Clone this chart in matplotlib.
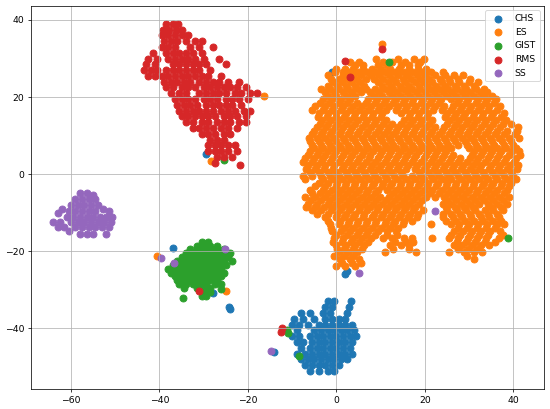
import matplotlib
matplotlib.use("Agg")
import matplotlib.pyplot as plt
import numpy as np

classes = ["CHS", "ES", "GIST", "RMS", "SS"]
colors = ["#1f77b4", "#ff7f0e", "#2ca02c", "#d62728", "#9467bd"]

# ---- CHS (rows: y, list of x) ----
chs_rows = [
    (-33.0, [-2.0, -0.5, 3.3]),
    (-34.5, [-2.5, -1.0, 2.8]),
    (-36.0, [-8.0, -6.0, -3.0, -1.5, 2.3]),
    (-37.5, [-9.5, -7.5, -5.0, -2.5, -1.0, 0.5, 2.0]),
    (-39.0, [-10.0, -8.5, -6.5, -4.0, -2.5, -1.0, 0.5, 2.0, 3.5]),
    (-40.5, [-9.0, -5.0, -3.5, -2.0, -0.5, 1.0, 2.5, 4.0]),
    (-42.0, [-10.0, -8.5, -6.0, -4.5, -3.0, -1.5, 0.0, 1.5, 3.0, 4.5]),
    (-43.5, [-9.0, -7.5, -5.5, -4.0, -2.5, -1.0, 0.5, 2.0, 3.5]),
    (-45.0, [-8.0, -6.0, -4.5, -3.0, -1.5, 0.0, 1.5, 3.0]),
    (-46.5, [-9.0, -7.0, -5.5, -4.0, -2.5, -1.0, 0.5, 2.0, 3.5]),
    (-48.0, [-8.0, -6.5, -5.0, -3.5, -2.0, -0.5, 1.0, 2.5]),
    (-49.5, [-7.0, -5.5, -4.0, -2.5, -1.0, 0.5]),
    (-51.0, [-6.0, -4.0, -2.0, -0.5]),
]
chs_extra = [(-29.5, 5.2), (-36.9, -19.2), (-27.9, -30.8), (-24.2, -34.5),
             (-24.0, -34.9), (-14.1, -46.1), (-1.0, 26.5), (1.9, -25.9), (2.5, -25.2)]

# ---- ES ----
es_rows = [
    (30.0, [9.0, 14.0, 17.5, 19.7]),
    (29.2, [3.0, 5.2, 10.5, 12.6, 15.6, 19.0]),
    (28.3, [4.2, 6.0, 9.5, 11.5, 14.5, 16.5, 18.5]),
    (27.4, [0.0, 2.0, 3.8, 6.0, 8.0, 10.0, 12.2, 14.2, 16.3, 18.4, 20.3]),
    (26.6, [-0.3, 1.5, 2.8, 4.8, 7.0, 9.0, 11.0, 13.2, 15.2, 17.2, 19.3, 21.4, 24.0]),
    (25.7, [-2.0, 1.6, 3.7, 5.6, 7.8, 9.7, 11.8, 14.0, 16.0, 18.2, 20.0, 22.4, 24.6, 26.5, 28.7]),
    (24.8, [-1.2, 0.5, 2.5, 4.5, 6.6, 8.6, 10.6, 12.8, 15.0, 16.8, 19.0, 21.0, 23.5, 25.5, 27.6, 30.2]),
    (23.9, [-0.8, 1.2, 3.3, 5.4, 9.5, 11.6, 13.5, 15.6, 17.8, 19.8, 21.7, 23.8, 25.7, 27.7, 30.0, 32.0]),
    (23.0, [-1.8, 0.2, 2.2, 4.2, 6.3, 10.3, 12.4, 14.4, 16.5, 18.6, 20.5, 22.6, 24.6, 26.8, 28.8, 31.0]),
    (22.1, [-3.5, -1.4, 0.6, 2.6, 4.8, 6.8, 8.8, 10.9, 12.9, 15.0, 17.1, 19.0, 21.1, 23.2, 25.3, 27.3, 29.3, 31.5, 33.4]),
    (21.2, [-2.5, -0.5, 1.5, 3.5, 5.5, 7.6, 9.7, 11.8, 13.8, 16.0, 18.0, 20.0, 22.0, 24.2, 26.2, 28.3, 30.3, 32.5, 34.0]),
    (20.3, [-2.0, 0.0, 2.3, 4.3, 8.5, 10.4, 12.5, 14.6, 16.7, 18.7, 20.8, 22.8, 24.9, 27.0, 29.0, 31.0, 33.2, 35.2]),
    (19.4, [-3.0, -1.0, 1.0, 3.0, 7.2, 9.2, 11.2, 13.4, 15.5, 17.4, 19.5, 21.6, 23.6, 25.8, 27.8, 29.8, 32.0, 34.0, 36.0]),
    (18.5, [-3.8, -1.6, 0.5, 2.5, 4.6, 6.7, 8.8, 10.8, 12.8, 15.0, 17.0, 19.1, 21.1, 23.2, 27.3, 29.4, 31.5, 33.5, 35.6]),
    (17.6, [-4.8, -2.5, -0.5, 1.6, 3.7, 5.7, 7.8, 9.8, 11.9, 14.0, 16.0, 18.1, 20.2, 22.2, 24.3, 26.4, 28.5, 30.5, 32.6, 34.6, 37.0]),
    (16.7, [-5.5, -3.0, -1.0, 1.0, 3.1, 5.1, 7.2, 9.3, 11.3, 13.4, 15.5, 17.5, 19.6, 21.8, 23.8, 25.9, 28.0, 30.0, 32.0, 34.2, 36.3]),
    (15.8, [-4.0, -2.0, 0.0, 2.1, 4.2, 6.2, 8.3, 10.4, 14.5, 16.6, 18.7, 20.8, 25.0, 27.0, 29.0, 31.1, 33.2, 35.3, 38.0]),
    (14.9, [-4.2, -2.2, -0.2, 1.8, 3.9, 6.0, 8.0, 10.1, 16.3, 18.4, 20.4, 24.6, 26.6, 28.7, 30.8, 32.9, 35.0, 37.2]),
    (14.0, [-3.2, -1.2, 0.8, 2.8, 4.9, 7.0, 9.0, 11.1, 15.2, 17.3, 19.4, 21.5, 25.6, 27.7, 29.8, 31.8, 33.9, 36.0, 38.4]),
    (13.1, [-3.8, -1.8, 0.2, 2.2, 4.2, 6.4, 8.4, 10.5, 12.6, 14.6, 16.6, 18.8, 20.9, 25.0, 27.1, 29.2, 31.2, 33.3, 35.4, 37.6, 39.5]),
    (12.2, [-4.5, -2.4, -0.4, 1.6, 3.6, 5.7, 7.8, 9.8, 11.9, 14.0, 16.0, 18.1, 20.2, 22.3, 24.4, 26.5, 28.5, 30.6, 32.7, 34.8, 37.0, 41.0]),
    (11.3, [-5.0, -3.0, -1.0, 1.0, 3.1, 5.2, 7.2, 9.3, 11.4, 13.4, 15.5, 17.6, 19.6, 21.7, 23.8, 25.9, 27.9, 30.0, 32.1, 34.2, 36.3, 38.6, 40.8]),
    (10.4, [-5.5, -3.5, -1.5, 0.5, 2.6, 4.6, 6.7, 8.8, 10.8, 12.9, 15.0, 17.0, 19.1, 21.2, 23.3, 25.4, 27.4, 29.5, 31.6, 33.7, 35.8, 38.0, 40.3]),
    (9.5, [-6.2, -4.5, -2.5, -0.5, 1.6, 3.6, 5.7, 7.8, 9.8, 11.9, 13.9, 16.0, 18.1, 20.2, 22.2, 24.3, 26.4, 28.5, 30.5, 32.6, 34.7, 36.8, 39.0, 41.2]),
    (8.6, [-6.0, -4.0, -2.0, 0.0, 2.0, 4.1, 6.2, 8.2, 10.3, 12.4, 14.4, 16.5, 18.6, 20.7, 22.7, 24.8, 26.9, 29.0, 31.0, 33.1, 35.2, 37.4, 39.5]),
    (7.7, [-5.5, -3.5, -1.5, 0.5, 2.6, 4.7, 6.7, 8.8, 10.9, 12.9, 15.0, 17.0, 19.1, 21.2, 23.3, 25.3, 27.4, 29.5, 31.6, 33.6, 35.7, 37.9, 40.0]),
    (6.8, [-5.0, -3.0, -1.0, 1.0, 3.1, 5.2, 7.2, 9.3, 11.4, 13.4, 15.5, 17.6, 19.7, 21.7, 23.8, 25.9, 30.0, 32.1, 34.2, 36.3, 38.4, 40.6]),
    (5.9, [-6.0, -4.0, -2.0, 0.0, 2.1, 4.2, 6.2, 8.3, 10.4, 12.4, 14.5, 16.6, 18.6, 20.7, 22.8, 24.8, 31.1, 33.1, 35.2, 37.3, 39.6, 41.2]),
    (5.0, [-6.5, -4.5, -2.5, -0.5, 1.6, 3.6, 5.7, 7.7, 9.8, 11.9, 14.0, 16.0, 18.1, 20.2, 22.3, 24.3, 26.4, 30.6, 32.6, 34.7, 36.8, 39.0, 41.5]),
    (4.1, [-7.0, -5.0, -3.0, -1.0, 1.1, 3.1, 5.2, 7.3, 9.3, 11.4, 13.5, 15.5, 17.6, 19.7, 21.8, 23.8, 25.9, 28.0, 30.1, 32.1, 34.2, 36.3, 38.4, 40.6]),
    (3.2, [-7.5, -5.5, -3.5, -1.5, 0.6, 2.6, 4.7, 6.8, 8.8, 10.9, 13.0, 15.0, 17.1, 19.2, 21.3, 23.3, 25.4, 27.5, 29.6, 31.6, 33.7, 35.8, 37.9, 40.2]),
    (2.3, [-6.5, -4.5, -2.5, -0.5, 1.8, 3.8, 5.9, 8.0, 10.0, 12.1, 14.2, 16.2, 18.3, 20.4, 22.5, 24.5, 26.6, 28.7, 30.8, 32.8, 34.9, 37.0, 39.2, 41.0]),
    (1.4, [-6.8, -4.8, -2.8, -0.8, 1.3, 3.3, 5.4, 7.5, 9.5, 11.6, 13.7, 15.7, 17.8, 19.9, 22.0, 24.0, 26.1, 28.2, 30.3, 32.3, 34.4, 36.5, 38.6, 40.8]),
    (0.5, [-6.0, -4.0, -2.0, 0.0, 2.1, 4.1, 6.2, 8.3, 10.3, 12.4, 14.5, 18.6, 20.7, 22.8, 24.8, 26.9, 29.0, 31.1, 33.1, 35.2, 37.3, 39.4]),
    (-0.4, [-7.5, -5.5, -3.5, -1.5, 0.6, 2.6, 4.7, 6.8, 8.8, 10.9, 13.0, 15.0, 17.1, 19.2, 21.3, 23.3, 25.4, 27.5, 29.6, 31.6, 33.7, 35.8, 37.9, 40.0]),
    (-1.3, [-7.0, -3.0, -0.8, 1.2, 3.3, 5.3, 7.4, 9.5, 11.5, 13.6, 15.7, 17.7, 19.8, 21.9, 24.0, 26.0, 28.1, 30.2, 32.3, 34.3, 36.4, 38.5, 40.5]),
    (-2.2, [-4.0, -1.8, 0.2, 2.2, 4.3, 6.3, 8.4, 10.5, 12.5, 14.6, 16.7, 18.8, 20.8, 22.9, 25.0, 27.1, 29.1, 31.2, 33.3, 35.4, 37.4, 39.5]),
    (-3.1, [-4.8, -2.5, -0.2, 2.0, 4.0, 6.0, 8.1, 10.2, 12.2, 14.3, 16.4, 18.4, 20.5, 22.6, 24.7, 26.7, 28.8, 30.9, 33.0, 35.0, 37.1, 39.0]),
    (-4.0, [-6.0, -3.0, -1.0, 1.0, 3.1, 5.2, 7.2, 9.3, 11.4, 13.4, 15.5, 17.6, 19.7, 21.7, 23.8, 25.9, 28.0, 30.0, 32.1, 34.2, 36.3, 38.5]),
    (-4.9, [-5.5, -3.8, -1.8, 0.4, 2.5, 4.5, 6.6, 8.7, 12.8, 14.9, 16.9, 19.0, 21.1, 23.2, 25.2, 27.3, 29.4, 31.5, 33.5, 35.6, 37.8]),
    (-5.8, [-7.0, -4.8, -2.5, -0.5, 1.6, 3.6, 5.7, 7.8, 9.8, 11.9, 14.0, 16.0, 18.1, 20.2, 22.3, 24.4, 26.4, 28.5, 30.6, 32.7, 34.7, 36.8, 39.0]),
    (-6.7, [-5.8, -3.5, -1.4, 0.8, 2.8, 4.9, 7.0, 9.0, 11.1, 13.2, 15.2, 17.3, 19.4, 25.0, 27.1, 29.2, 31.3, 33.4, 35.5, 37.6]),
    (-7.6, [-6.5, -4.5, -2.0, 0.0, 2.1, 4.1, 6.2, 8.3, 10.3, 12.4, 14.5, 16.5, 18.6, 24.0, 26.0, 28.1, 30.2, 32.2, 34.3, 36.4, 38.5]),
    (-8.5, [-6.8, -4.8, -2.8, -0.8, 1.3, 3.3, 5.4, 7.5, 9.5, 11.6, 13.7, 15.7, 17.8, 24.7, 26.8, 28.9, 30.9, 35.0, 37.2]),
    (-9.4, [-5.5, -3.5, -1.2, 0.8, 2.9, 5.0, 7.0, 9.1, 11.2, 13.2, 15.3, 17.4, 19.5, 25.0, 27.2, 29.3, 31.4, 33.5, 35.5, 37.6]),
    (-10.3, [-4.5, -2.0, 0.2, 2.2, 4.3, 6.3, 8.4, 10.5, 12.5, 14.6, 16.7, 18.5, 24.2, 26.0, 28.0, 30.1, 32.2, 34.3, 36.2]),
    (-11.2, [-2.5, -0.2, 1.8, 3.8, 5.9, 8.0, 10.0, 12.1, 14.2, 16.2, 18.2, 24.2, 26.3, 28.4, 30.5, 32.6, 34.6, 36.8]),
    (-12.1, [-1.8, 0.8, 2.8, 4.9, 7.0, 9.0, 11.1, 13.2, 15.2, 17.0, 24.8, 27.0, 29.0, 31.1, 33.2, 35.3, 37.2]),
    (-13.0, [-1.5, 0.5, 2.6, 4.7, 6.7, 8.8, 10.9, 12.9, 15.0, 21.3, 25.8, 27.8, 29.9, 32.0, 34.0, 36.2, 38.0]),
    (-13.9, [-1.2, 1.8, 3.8, 5.9, 8.0, 10.0, 12.1, 14.0, 27.5, 29.6, 31.7, 33.8, 35.8]),
    (-14.8, [-1.0, 1.0, 3.1, 5.2, 7.2, 9.3, 11.4, 13.4, 26.6, 28.6, 30.7, 32.8, 34.8, 37.0]),
    (-15.7, [0.0, 2.5, 4.6, 6.6, 8.7, 11.5, 13.8, 25.8, 28.0, 30.1, 32.2, 34.2, 37.6]),
    (-16.6, [-0.5, 1.6, 3.7, 5.7, 7.8, 10.5, 12.5, 15.2, 17.0, 21.7, 25.5, 27.6, 29.7, 31.8, 33.8, 36.8]),
    (-17.5, [-0.8, 1.2, 3.2, 5.2, 7.2, 13.3, 15.8, 17.4, 27.2, 29.3, 31.4, 33.5, 35.8]),
    (-18.4, [0.0, 2.2, 4.2, 6.2, 12.2, 14.5, 16.5, 26.5, 28.5, 30.6, 32.7, 34.6]),
    (-19.3, [0.2, 1.7, 3.7, 5.7, 12.8, 16.5, 27.5, 29.7, 31.8]),
    (-20.2, [0.5, 2.6, 4.7, 11.0, 17.9, 25.4, 28.8, 31.0, 33.0]),
    (-21.1, [-0.5, 1.8, 3.8, 29.6]),
    (-22.0, [0.8, 3.0, 5.0, 31.0]),
    (-22.9, [1.3, 3.5, 5.5]),
    (-23.8, [-0.2, 2.0, 4.2]),
]
es_extra = [(-40.5, -21.3), (-25.0, -30.2), (-28.4, 3.4), (-16.4, 20.4), (10.4, 33.7)]

# ---- GIST ----
gist_rows = [
    (-17.5, [-30.5, -29.0]),
    (-18.5, [-31.5, -30.0, -28.5, -27.0]),
    (-19.5, [-33.0, -31.5, -30.0, -28.5, -27.0, -25.5]),
    (-20.5, [-34.0, -32.5, -31.0, -29.5, -28.0, -26.5, -25.0, -24.0]),
    (-21.5, [-35.0, -33.5, -32.0, -30.5, -29.0, -27.5, -26.0, -24.5]),
    (-22.5, [-36.0, -34.5, -33.0, -31.5, -30.0, -28.5, -27.0, -25.5, -23.5]),
    (-23.5, [-37.0, -35.5, -34.0, -32.5, -31.0, -29.5, -28.0, -26.5, -25.0]),
    (-24.5, [-38.0, -36.5, -35.0, -33.5, -32.0, -30.5, -29.0, -27.5, -26.0]),
    (-25.5, [-37.5, -36.0, -34.5, -33.0, -31.5, -30.0, -28.5, -27.0, -25.5]),
    (-26.5, [-36.5, -35.0, -33.5, -32.0, -30.5, -29.0, -27.5, -26.0]),
    (-27.5, [-36.0, -34.5, -33.0, -31.5, -30.0, -28.5, -27.0]),
    (-28.5, [-35.5, -34.0, -32.5, -31.0, -29.5, -27.5, -26.0]),
    (-29.5, [-34.5, -31.5, -30.0, -28.5]),
    (-30.5, [-30.0, -28.5]),
    (-31.5, [-30.5, -29.5]),
]
gist_extra = [(-34.7, -32.0), (-26.0, -29.8), (-25.4, 3.8), (11.8, 29.0), (38.7, -16.5),
              (-11.2, -40.4), (-11.0, -41.2), (-8.5, -47.2)]

# ---- RMS ----
rms_rows = [
    (39.0, [-38.5, -37.0, -35.8]),
    (37.5, [-39.2, -37.8, -36.3, -34.8]),
    (36.0, [-39.5, -38.0, -36.5, -35.0, -33.5]),
    (34.5, [-39.0, -37.5, -36.0, -34.0, -32.0, -30.5]),
    (33.0, [-39.5, -38.0, -36.5, -33.0, -31.0, -28.0]),
    (31.5, [-41.5, -38.5, -37.0, -35.5, -34.0, -32.5, -30.5]),
    (30.0, [-42.5, -40.5, -38.0, -36.5, -35.0, -33.5, -32.0, -30.0, -26.5]),
    (28.5, [-43.0, -41.0, -37.0, -35.5, -34.0, -32.5, -31.0, -29.5, -25.0]),
    (27.0, [-43.5, -42.0, -40.5, -38.5, -37.0, -35.5, -34.0, -32.5, -31.0, -28.5]),
    (25.5, [-42.5, -41.0, -39.5, -38.0, -36.5, -35.0, -33.5, -32.0, -30.5, -29.0, -26.0]),
    (24.0, [-39.0, -37.5, -36.0, -34.5, -33.0, -31.0, -29.5, -28.0, -26.5, -24.5, -22.0]),
    (22.5, [-38.5, -37.0, -35.0, -33.5, -32.0, -30.0, -28.5, -27.0, -25.5, -24.0, -22.5, -20.5]),
    (21.0, [-37.5, -35.5, -34.0, -31.0, -29.5, -28.0, -26.5, -25.0, -23.0, -21.5, -19.5, -18.0]),
    (19.5, [-36.5, -35.0, -33.5, -32.0, -30.0, -28.5, -27.0, -25.0, -23.5, -22.0, -20.0]),
    (18.0, [-36.0, -34.5, -33.0, -31.5, -29.5, -28.0, -26.5, -25.0, -23.5, -21.5]),
    (16.5, [-35.5, -34.0, -32.5, -31.0, -29.5, -28.0, -26.0, -24.5, -23.0, -21.0, -19.5]),
    (15.0, [-35.0, -33.5, -32.0, -30.5, -29.0, -27.5, -25.5, -24.0, -22.5, -20.5]),
    (13.5, [-34.0, -32.5, -30.5, -29.0, -27.0, -25.5, -24.0, -22.0, -20.5]),
    (12.0, [-32.5, -31.0, -29.5, -28.0, -26.0, -24.5, -22.5]),
    (10.5, [-30.5, -29.0, -27.5, -25.5, -24.0]),
    (9.0, [-28.5, -27.0, -25.5]),
    (7.5, [-29.0, -27.5, -26.0, -24.5, -23.0]),
    (6.0, [-29.0, -27.5, -26.0, -24.5, -22.5]),
    (4.5, [-27.0, -25.5, -23.5]),
    (3.0, [-27.5]),
    (2.3, [-21.8]),
]
rms_extra = [(-31.0, -30.2), (1.9, 29.4), (3.0, 25.3), (10.2, 32.5), (-12.3, -39.8), (-12.5, -41.0)]

# ---- SS ----
ss_rows = [
    (-5.0, [-58.0, -56.5]),
    (-5.5, [-55.0]),
    (-6.5, [-59.0, -57.5, -56.0, -54.5]),
    (-8.0, [-60.0, -58.5, -57.0, -55.5, -54.0]),
    (-9.0, [-62.0, -52.8]),
    (-9.6, [-60.5, -59.0, -57.5, -56.0, -54.5, -51.5]),
    (-10.0, [-63.0]),
    (-11.0, [-61.0, -59.5, -58.0, -56.5, -55.0, -53.5, -52.0, -50.8]),
    (-12.3, [-64.0, -62.5, -60.0, -58.5, -57.0, -55.5, -54.0, -52.5, -51.0]),
    (-13.8, [-63.0, -61.5, -59.0, -57.5, -56.0, -54.5, -53.0, -51.5]),
    (-14.8, [-60.5]),
    (-15.4, [-58.0, -56.5, -55.0, -52.0]),
]
ss_extra = [(-39.6, -21.6), (-36.7, -22.9), (-25.1, -19.4), (-14.9, -45.8), (5.0, -25.6), (22.4, -9.6)]


def flatten(rows, extra):
    xs, ys = [], []
    for y, row in rows:
        for x in row:
            xs.append(x)
            ys.append(y)
    for x, y in extra:
        xs.append(x)
        ys.append(y)
    return np.array(xs), np.array(ys)


data = [
    flatten(chs_rows, chs_extra),
    flatten(es_rows, es_extra),
    flatten(gist_rows, gist_extra),
    flatten(rms_rows, rms_extra),
    flatten(ss_rows, ss_extra),
]

DPI = 67
fig = plt.figure(figsize=(550 / DPI, 409 / DPI), dpi=DPI)
ax = fig.add_axes([31 / 550, 20 / 409, 513.3 / 550, 383.3 / 409])

for name, col, (xs, ys) in zip(classes, colors, data):
    ax.scatter(xs, ys, c=col, s=56, label=name)

ax.set_xlim(-69.05, 47.0)
ax.set_ylim(-55.7, 43.7)
ax.set_xticks([-60, -40, -20, 0, 20, 40])
ax.set_yticks([-40, -20, 0, 20, 40])
ax.grid(True)
ax.legend(loc="upper right")

fig.savefig("out.png", dpi=DPI)
